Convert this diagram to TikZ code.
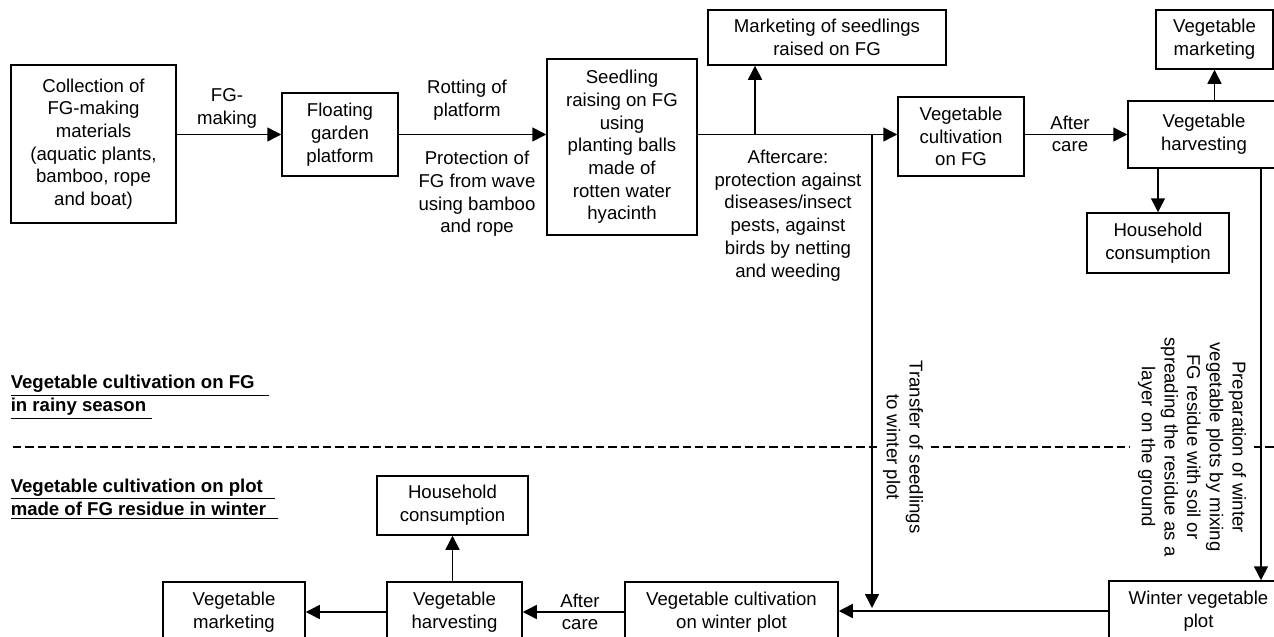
\documentclass[tikz,border=0pt]{standalone}
\usepackage{fontspec}
\setmainfont{Liberation Sans}
\usetikzlibrary{positioning,arrows.meta}

\begin{document}
\begin{tikzpicture}[
    x=0.5pt, y=-0.5pt,
    font=\fontsize{9.3}{11.35}\selectfont,
    line width=0.75pt,
    stage/.style={rectangle, draw, align=center, inner sep=2pt},
    lbl/.style={align=center, inner sep=1pt},
    heading/.style={anchor=west, align=left, inner sep=0pt,
      font=\fontsize{9.3}{11.5}\selectfont\bfseries},
    >={Triangle[length=7pt,width=7pt]}
  ]
    \path[use as bounding box, clip] (0,0) rectangle (1274,637);

    \draw[line width=0.6pt, dash pattern=on 4.2pt off 2pt] (13,447) -- (1274,447);

    \node[stage, minimum width=82.5pt, minimum height=79pt] (coll) at (93.5,144)
      {Collection of\\FG-making\\materials\\(aquatic plants,\\bamboo, rope\\and boat)};
    \node[stage, minimum width=58pt, minimum height=41.5pt] (fgp) at (340,134.5)
      {Floating\\garden\\platform};
    \node[stage, minimum width=75pt, minimum height=88pt] (seed) at (622,147)
      {Seedling\\raising on FG\\using\\planting balls\\made of\\rotten water\\hyacinth};
    \node[stage, minimum width=119pt, minimum height=27.5pt] (mseed) at (827,37.5)
      {Marketing of seedlings\\raised on FG};
    \node[stage, minimum width=63pt, minimum height=39.5pt] (cult) at (961,136.5)
      {Vegetable\\cultivation\\on FG};
    \node[stage, minimum width=76pt, minimum height=33.5pt] (harv) at (1204,134.5)
      {Vegetable\\harvesting};
    \node[stage, minimum width=58.5pt, minimum height=29.5pt] (vmkt) at (1214.5,39.5)
      {Vegetable\\marketing};
    \node[stage, minimum width=71pt, minimum height=30pt] (hh) at (1158,243)
      {Household\\consumption};

    \node[stage, minimum width=89.5pt, minimum height=30pt] (wplot) at (1198.5,611)
      {Winter vegetable\\plot};
    \node[stage, minimum width=106.5pt, minimum height=30pt] (wcult) at (731.5,612)
      {Vegetable cultivation\\on winter plot};
    \node[stage, minimum width=67.5pt, minimum height=30pt] (wharv) at (454.5,612)
      {Vegetable\\harvesting};
    \node[stage, minimum width=71pt, minimum height=30pt] (wmkt) at (234,612)
      {Vegetable\\marketing};
    \node[stage, minimum width=75.5pt, minimum height=29.5pt] (whh) at (452.5,505.5)
      {Household\\consumption};

    \node[lbl] (lmake) at (227,108.5) {FG-\\making};
    \node[lbl] (lrot) at (467,100) {Rotting of\\platform};
    \node[lbl] (lprot) at (477,194) {Protection of\\FG from wave\\using bamboo\\and rope};
    \node[lbl] (laft) at (788,215.5)
      {Aftercare:\\protection against\\diseases/insect\\pests, against\\birds by netting\\and weeding};
    \node[lbl] (lcare) at (1070,134) {After\\care};
    \node[lbl] (lwcare) at (580,612) {After\\care};
    \node[lbl, rotate=-90, fill=white, inner sep=2pt] (ltrans) at (903,447)
      {Transfer of seedlings\\to winter plot};
    \node[lbl, rotate=-90, fill=white, inner sep=4pt] (lprep) at (1192,447)
      {Preparation of winter\\vegetable plots by mixing\\FG residue with soil or\\spreading the residue as a\\layer on the ground};

    \node[heading] (hrain) at (10,397)
      {\underline{Vegetable cultivation on FG\hspace{7pt}}\\\underline{in rainy season\hspace{3pt}}};
    \node[heading] (hwint) at (10,499)
      {\underline{Vegetable cultivation on plot\hspace{6pt}}\\\underline{made of FG residue in winter\hspace{6pt}}};

    \coordinate (split) at (755,0);
    \coordinate (trans) at (872,0);
    \coordinate (prep) at (1261,0);

    \draw[->] (coll.east |- fgp) -- (fgp);
    \draw[->] (fgp) -- (fgp -| seed.west);
    \draw[->] (seed.east |- harv) -- (cult.west |- harv);
    \draw[->] (split |- harv) -- (split |- mseed.south);
    \draw[->, shorten >=1.5pt] (trans |- harv) -- (trans |- wplot);
    \draw[->] (cult.east |- harv) -- (harv);
    \draw[->] (vmkt.south |- harv.north) -- (vmkt.south);
    \draw[->] (hh.north |- harv.south) -- (hh.north);
    \draw[->] (prep |- harv.south) -- (prep |- wplot.north);
    \draw[->] (wplot.west) -- (wplot.west -| wcult.east);
    \draw[->] (wcult) -- (wharv);
    \draw[->] (wharv) -- (wmkt);
    \draw[->] (whh.south |- wharv.north) -- (whh.south);
  \end{tikzpicture}
\end{document}
